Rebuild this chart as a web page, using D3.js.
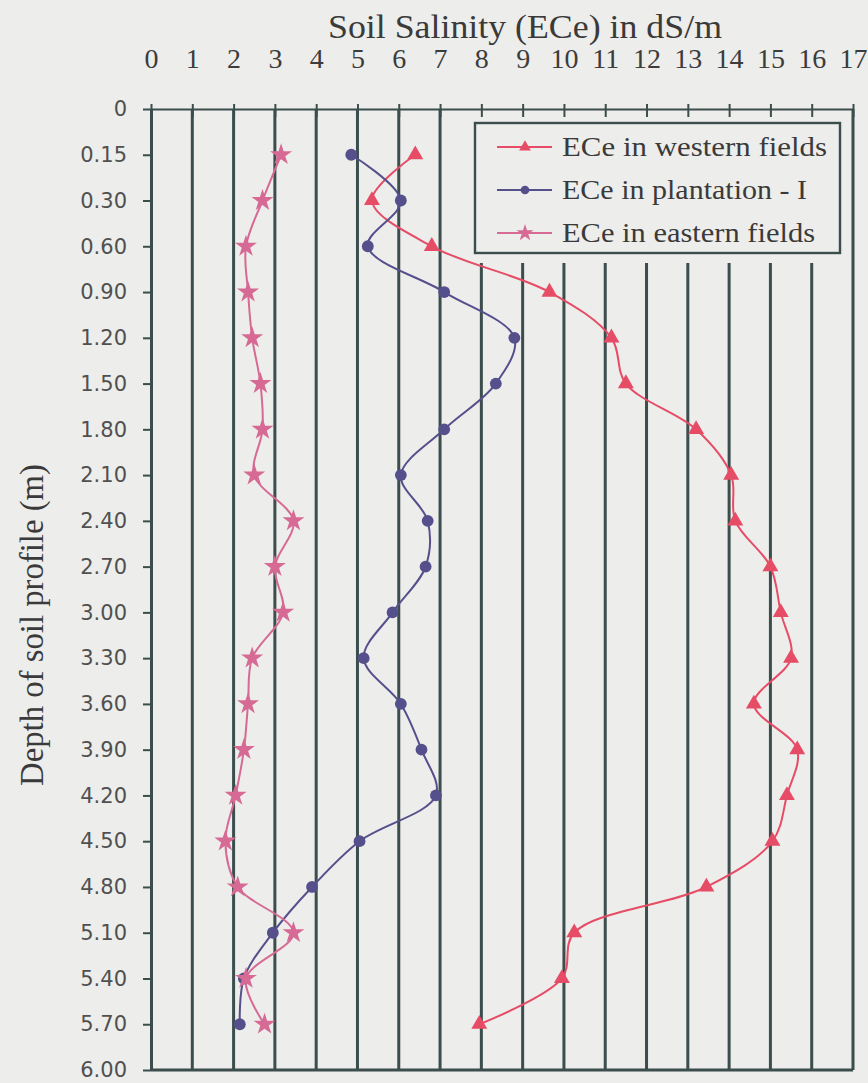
<!DOCTYPE html>
<html>
<head>
<meta charset="utf-8">
<script src="https://cdn.jsdelivr.net/npm/d3@7"></script>
<style>
  body { margin: 0; background: #ededeb; }
  svg { display: block; }
  .serif { font-family: "Liberation Serif", "DejaVu Serif", "Times New Roman", serif; }
</style>
</head>
<body>
<div id="chart-area"></div>
<script>
// Depth labels on the category axis (m)
var depthLabels = ["0", "0.15", "0.30", "0.60", "0.90", "1.20", "1.50", "1.80", "2.10", "2.40",
	"2.70", "3.00", "3.30", "3.60", "3.90", "4.20", "4.50", "4.80", "5.10", "5.40", "5.70", "6.00"];

// Depths where ECe was sampled
var depths = ["0.15", "0.30", "0.60", "0.90", "1.20", "1.50", "1.80", "2.10", "2.40", "2.70",
	"3.00", "3.30", "3.60", "3.90", "4.20", "4.50", "4.80", "5.10", "5.40", "5.70"];

// ECe values in dS/m
var western = [6.4, 5.35, 6.8, 9.65, 11.15, 11.5, 13.2, 14.05, 14.15, 15.0,
	15.25, 15.5, 14.6, 15.65, 15.4, 15.05, 13.45, 10.25, 9.95, 7.95];
var plantation = [4.85, 6.05, 5.25, 7.1, 8.8, 8.35, 7.1, 6.05, 6.7, 6.65,
	5.85, 5.15, 6.05, 6.55, 6.9, 5.05, 3.9, 2.95, 2.25, 2.15];
var eastern = [3.15, 2.7, 2.3, 2.35, 2.45, 2.65, 2.7, 2.5, 3.45, 3.0,
	3.2, 2.45, 2.35, 2.25, 2.05, 1.8, 2.1, 3.45, 2.3, 2.75];

var xTicks = d3.range(0, 18);

var series = [
	{ name: "ECe in western fields", values: western, color: "#e64c66", symbol: d3.symbolTriangle },
	{ name: "ECe in plantation - I", values: plantation, color: "#55508c", symbol: d3.symbolCircle },
	{ name: "ECe in eastern fields", values: eastern, color: "#d66a94", symbol: d3.symbolStar }
];

var width = 868, height = 1083;
var plot = { left: 151, right: 853, top: 109, bottom: 1070 };
var legendBox = { x: 475, y: 123, w: 365, h: 130 };
var gridColor = "#3b4d4d";

var svg = d3.select("#chart-area")
	.append("svg")
		.attr("width", width)
		.attr("height", height);

svg.append("rect")
	.attr("width", width)
	.attr("height", height)
	.attr("fill", "#ededeb");

var x = d3.scaleLinear()
	.domain([0, 17])
	.range([plot.left, plot.right]);

var y = d3.scalePoint()
	.domain(depthLabels)
	.range([plot.top, plot.bottom]);

// Vertical gridlines (broken by the legend box)
svg.append("g")
	.selectAll("line")
	.data(xTicks.filter((d) => d > 0 && d < 17))
	.enter()
	.append("line")
		.attr("x1", (d) => x(d))
		.attr("x2", (d) => x(d))
		.attr("y1", (d) => {
			return (x(d) > legendBox.x && x(d) < legendBox.x + legendBox.w) ? legendBox.y + legendBox.h + 10 : plot.top;
		})
		.attr("y2", plot.bottom)
		.attr("stroke", gridColor)
		.attr("stroke-width", 3);

// Top axis with crossing ticks
var topAxis = svg.append("g")
	.attr("transform", `translate(0,${plot.top})`)
	.call(d3.axisTop(x).tickValues(xTicks).tickSize(5).tickSizeOuter(0));
topAxis.select(".domain").attr("stroke", gridColor).attr("stroke-width", 2);
topAxis.selectAll(".tick line")
	.attr("y2", -5)
	.attr("y1", 8)
	.attr("stroke", gridColor)
	.attr("stroke-width", 2);
topAxis.selectAll(".tick text")
	.attr("class", "serif")
	.attr("y", 68 - plot.top)
	.attr("dy", 0)
	.attr("font-size", 28)
	.attr("fill", "#3c3c3c");

// Left axis
var leftAxis = svg.append("g")
	.attr("transform", `translate(${plot.left},0)`)
	.call(d3.axisLeft(y).tickSize(8).tickSizeOuter(0).tickPadding(16));
leftAxis.select(".domain").attr("stroke", gridColor).attr("stroke-width", 3);
leftAxis.selectAll(".tick line").attr("stroke", gridColor).attr("stroke-width", 2);
leftAxis.selectAll(".tick text")
	.attr("font-family", "'DejaVu Sans', Arial, sans-serif")
	.attr("font-size", 21)
	.attr("fill", "#505050");

// Bottom and right border
svg.append("line")
	.attr("x1", plot.left).attr("x2", plot.right)
	.attr("y1", plot.bottom).attr("y2", plot.bottom)
	.attr("stroke", gridColor).attr("stroke-width", 3);
svg.append("line")
	.attr("x1", plot.right).attr("x2", plot.right)
	.attr("y1", plot.top).attr("y2", plot.bottom)
	.attr("stroke", gridColor).attr("stroke-width", 3);

// Series lines and markers
var line = d3.line()
	.x((d) => x(d.v))
	.y((d) => y(d.depth))
	.curve(d3.curveCatmullRom.alpha(0.5));

series.forEach((s) => {
	var pts = depths.map((dep, i) => ({ depth: dep, v: s.values[i] }));
	svg.append("path")
		.datum(pts)
		.attr("d", line)
		.attr("fill", "none")
		.attr("stroke", s.color)
		.attr("stroke-width", 2);
	svg.append("g")
		.selectAll("path")
		.data(pts)
		.enter()
		.append("path")
			.attr("transform", (d) => `translate(${x(d.v)},${y(d.depth)})`)
			.attr("d", d3.symbol().type(s.symbol).size(s.symbol === d3.symbolStar ? 150 : 110))
			.attr("fill", s.color);
});

// Legend
var legend = svg.append("g");
legend.append("rect")
	.attr("x", legendBox.x)
	.attr("y", legendBox.y)
	.attr("width", legendBox.w)
	.attr("height", legendBox.h)
	.attr("fill", "#ededeb")
	.attr("stroke", gridColor)
	.attr("stroke-width", 2.4);

var legendWidths = [265, 245, 253];
series.forEach((s, i) => {
	var ly = 147 + i * 43;
	legend.append("line")
		.attr("x1", 497).attr("x2", 552)
		.attr("y1", ly).attr("y2", ly)
		.attr("stroke", s.color)
		.attr("stroke-width", 2);
	legend.append("path")
		.attr("transform", `translate(525,${ly})`)
		.attr("d", d3.symbol().type(s.symbol).size(s.symbol === d3.symbolStar ? 90 : 60))
		.attr("fill", s.color);
	legend.append("text")
		.attr("class", "serif")
		.attr("x", 562)
		.attr("y", ly + 9)
		.attr("font-size", 28)
		.attr("fill", "#3a3a3a")
		.attr("textLength", legendWidths[i])
		.attr("lengthAdjust", "spacingAndGlyphs")
		.text(s.name);
});

// Axis titles
svg.append("text")
	.attr("class", "serif")
	.attr("x", 525)
	.attr("y", 38)
	.attr("text-anchor", "middle")
	.attr("font-size", 34)
	.attr("fill", "#3a3a3a")
	.attr("textLength", 394)
	.attr("lengthAdjust", "spacingAndGlyphs")
	.text("Soil Salinity (ECe) in dS/m");

svg.append("text")
	.attr("class", "serif")
	.attr("transform", "translate(43,625) rotate(-90)")
	.attr("text-anchor", "middle")
	.attr("font-size", 33)
	.attr("fill", "#3a3a3a")
	.attr("textLength", 322)
	.attr("lengthAdjust", "spacingAndGlyphs")
	.text("Depth of soil profile (m)");
</script>
</body>
</html>
